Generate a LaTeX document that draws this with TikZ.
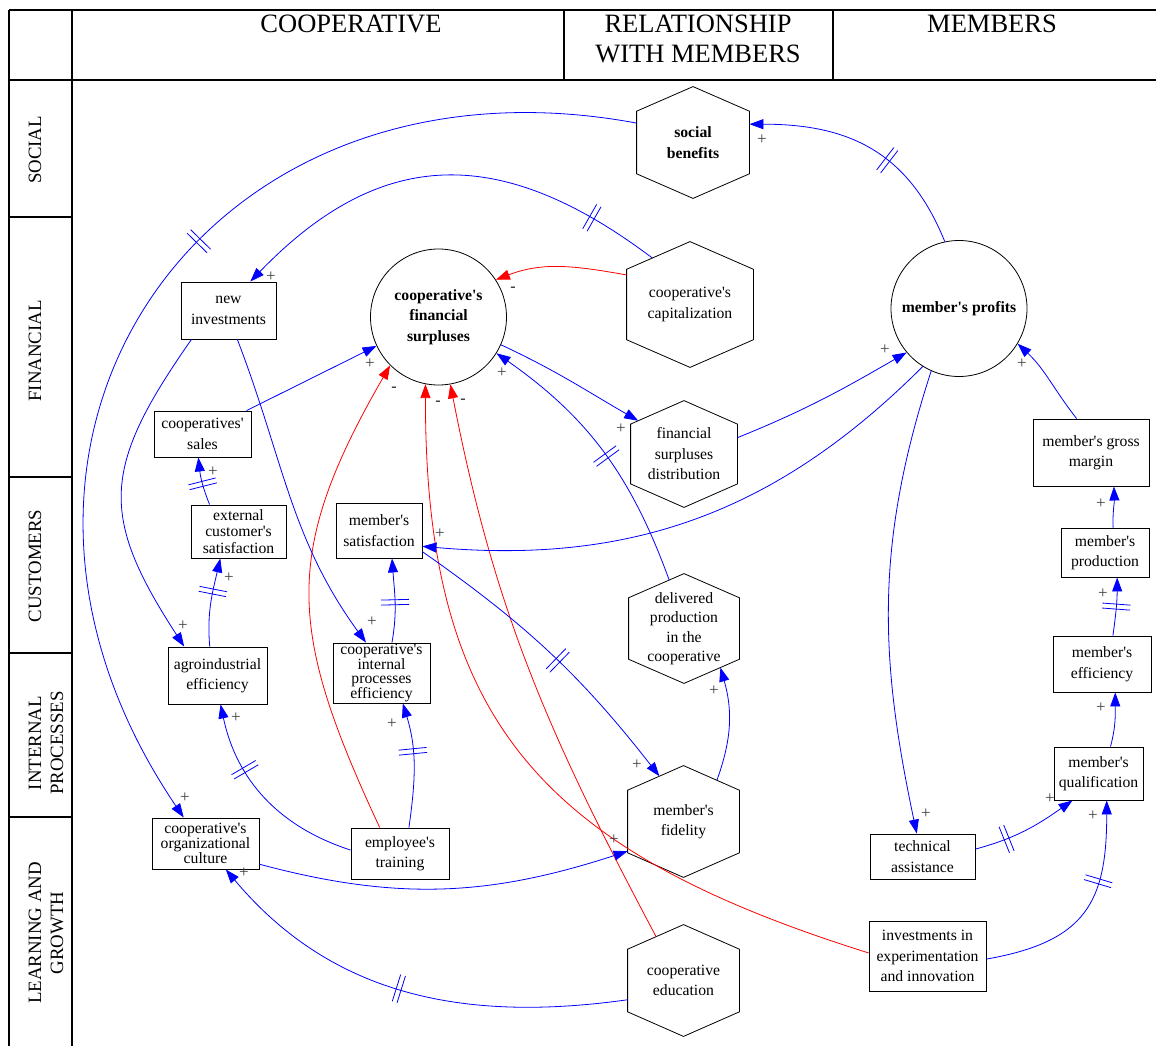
\documentclass[tikz,border=0pt]{standalone}
\usepackage{fontspec}
\setmainfont{Liberation Serif}[Ligatures=TeXOff]
\usetikzlibrary{arrows.meta,decorations.markings}

% A hexagon with pointed top and bottom whose width and height are set independently
\makeatletter
\pgfdeclareshape{hexv}{%
  \inheritsavedanchors[from=rectangle]%
  \inheritanchor[from=rectangle]{center}%
  \inheritanchor[from=rectangle]{north}%
  \inheritanchor[from=rectangle]{south}%
  \inheritanchor[from=rectangle]{east}%
  \inheritanchor[from=rectangle]{west}%
  \backgroundpath{%
    \southwest\edef\hv@l{\the\pgf@x}\edef\hv@b{\the\pgf@y}%
    \northeast\edef\hv@r{\the\pgf@x}\edef\hv@t{\the\pgf@y}%
    \pgfmathsetlengthmacro\hv@c{(\hv@l+\hv@r)/2}%
    \pgfmathsetlengthmacro\hv@u{\hv@t-0.22*(\hv@t-\hv@b)}%
    \pgfmathsetlengthmacro\hv@d{\hv@b+0.22*(\hv@t-\hv@b)}%
    \pgfpathmoveto{\pgfqpoint{\hv@c}{\hv@t}}%
    \pgfpathlineto{\pgfqpoint{\hv@r}{\hv@u}}%
    \pgfpathlineto{\pgfqpoint{\hv@r}{\hv@d}}%
    \pgfpathlineto{\pgfqpoint{\hv@c}{\hv@b}}%
    \pgfpathlineto{\pgfqpoint{\hv@l}{\hv@d}}%
    \pgfpathlineto{\pgfqpoint{\hv@l}{\hv@u}}%
    \pgfpathclose
  }%
  \anchorborder{%
    \edef\hv@dx{\the\pgf@x}\edef\hv@dy{\the\pgf@y}%
    \southwest\edef\hv@l{\the\pgf@x}\edef\hv@b{\the\pgf@y}%
    \northeast\edef\hv@r{\the\pgf@x}\edef\hv@t{\the\pgf@y}%
    \pgfmathsetmacro\hv@A{(\hv@r-\hv@l)/2}%
    \pgfmathsetmacro\hv@B{(\hv@t-\hv@b)/2}%
    \pgfmathsetmacro\hv@C{0.44*\hv@B}%
    \pgfmathsetmacro\hv@n{max(veclen(\hv@dx,\hv@dy),0.001)}%
    \pgfmathsetmacro\hv@X{max(abs(\hv@dx)/\hv@n,0.0001)}%
    \pgfmathsetmacro\hv@Y{abs(\hv@dy)/\hv@n}%
    \pgfmathsetmacro\hv@T{(\hv@Y*\hv@A < (\hv@B-\hv@C)*\hv@X) ? \hv@A/\hv@X : \hv@A*\hv@B/(\hv@A*\hv@Y+\hv@C*\hv@X)}%
    \pgfmathsetlengthmacro\hv@px{(\hv@l+\hv@r)/2+\hv@T*(\hv@dx/\hv@n)}%
    \pgfmathsetlengthmacro\hv@py{(\hv@b+\hv@t)/2+\hv@T*(\hv@dy/\hv@n)}%
    \pgf@x=\hv@px\relax
    \pgf@y=\hv@py\relax
  }%
}
\makeatother

\newcommand\diagfont{\fontsize{15.7}{20.5}\selectfont}

\tikzset{
  frame/.style={line width=1.6pt, black},
  head/.style={font=\fontsize{26.5}{30}\selectfont, align=center, anchor=base, inner sep=0pt},
  side/.style={font=\fontsize{18.8}{22}\selectfont, align=center, rotate=90, inner sep=0pt},
  box/.style={draw, line width=0.9pt, rectangle, inner sep=0pt, align=center, font=\diagfont},
  hexbox/.style={draw, line width=0.8pt, shape=hexv, inner sep=0pt, align=center, font=\diagfont},
  circ/.style={draw, circle, line width=0.8pt, minimum size=136pt, inner sep=0pt, align=center, font=\diagfont\bfseries},
  plink/.style={blue, line width=0.8pt, -{Triangle[length=14pt,width=10pt]}},
  nlink/.style={red, line width=0.8pt, -{Triangle[length=14pt,width=10pt]}},
  plus/.style={font=\fontsize{17}{17}\selectfont, text=black!75, inner sep=0pt},
  minus/.style={font=\fontsize{16}{16}\selectfont\bfseries, text=black!80, inner sep=0pt},
  delaymark/.style={postaction={decorate, decoration={markings,
      mark=at position #1 with {\draw[line width=0.8pt,-] (-2.5,-14) -- (-2.5,14) (2.5,-14) -- (2.5,14);}}}}
}

\begin{document}
\begin{tikzpicture}[x=1pt, y=1pt]
\useasboundingbox (0,0) rectangle (1156,-1046);

% table frame
\draw[frame] (9,-10) -- (1156,-10);
\draw[frame] (9,-80) -- (1156,-80);
\draw[frame] (9,-10) -- (9,-1046);
\draw[frame] (72,-10) -- (72,-1046);
\draw[frame] (564,-10) -- (564,-80);
\draw[frame] (833,-10) -- (833,-80);
\foreach \yy in {217,477,653,817} \draw[frame] (9,-\yy) -- (72,-\yy);

% column headings
\node[head] (hcoop) at (351,-33) {COOPERATIVE};
\node[head] (hrel) at (698,-63) {RELATIONSHIP\\WITH MEMBERS};
\node[head] (hmem) at (992,-33) {MEMBERS};

% perspective labels
\node[side] (lsoc) at (35,-150) {SOCIAL};
\node[side] (lfin) at (35,-351) {FINANCIAL};
\node[side] (lcus) at (35,-566) {CUSTOMERS};
\node[side] (lint) at (46,-743) {INTERNAL\\PROCESSES};
\node[side] (llea) at (46,-933) {LEARNING AND\\GROWTH};

% hexagonal variables
\node[hexbox, minimum width=112pt, minimum height=111pt, font=\diagfont\bfseries] (sb) at (693,-142.5) {social\\benefits};
\node[hexbox, minimum width=126pt, minimum height=125pt] (cap) at (690,-304.5) {cooperative's\\capitalization};
\node[hexbox, minimum width=106pt, minimum height=106pt] (fsd) at (684,-454) {financial\\surpluses\\distribution};
\node[hexbox, minimum width=110pt, minimum height=109pt, font=\fontsize{15.7}{19.5}\selectfont] (dp) at (684,-628.5) {delivered\\production\\in the\\cooperative};
\node[hexbox, minimum width=111pt, minimum height=111pt] (mf) at (683.5,-821.5) {member's\\fidelity};
\node[hexbox, minimum width=111pt, minimum height=111pt] (ce) at (683.5,-980.5) {cooperative\\education};

% circular variables
\node[circ] (cfs) at (438.5,-317) {cooperative's\\financial\\surpluses};
\node[circ] (mp) at (959,-308.5) {member's profits};

% rectangular variables
\node[box, minimum width=95pt, minimum height=57pt] (ni) at (228.5,-310.5) {new\\investments};
\node[box, minimum width=97pt, minimum height=46pt] (cs) at (202.5,-434) {cooperatives'\\sales};
\node[box, minimum width=95pt, minimum height=53pt, font=\fontsize{15.7}{16.7}\selectfont] (ecs) at (238.5,-531.5) {external\\customer's\\satisfaction};
\node[box, minimum width=86pt, minimum height=55pt] (ms) at (379,-530.5) {member's\\satisfaction};
\node[box, minimum width=99pt, minimum height=57pt] (ae) at (217.5,-675.5) {agroindustrial\\efficiency};
\node[box, minimum width=97pt, minimum height=60pt, font=\fontsize{15.7}{14.5}\selectfont] (cipe) at (381.5,-673) {cooperative's\\internal\\processes\\efficiency};
\node[box, minimum width=107pt, minimum height=51pt, font=\fontsize{15.7}{15}\selectfont] (cul) at (205.5,-843.5) {cooperative's\\organizational\\culture};
\node[box, minimum width=98pt, minimum height=51pt] (et) at (400,-853.5) {employee's\\training};
\node[box, minimum width=116pt, minimum height=67pt] (mgm) at (1091,-452.5) {member's gross\\margin};
\node[box, minimum width=88pt, minimum height=49pt] (mprod) at (1105,-552.5) {member's\\production};
\node[box, minimum width=98pt, minimum height=56pt] (meff) at (1102,-664) {member's\\efficiency};
\node[box, minimum width=89pt, minimum height=53pt] (mq) at (1098.5,-773.5) {member's\\qualification};
\node[box, minimum width=105pt, minimum height=45pt] (ta) at (922.5,-856.5) {technical\\assistance};
\node[box, minimum width=117pt, minimum height=70pt] (iei) at (927.5,-956) {investments in\\experimentation\\and innovation};

% negative links
\draw[nlink] (cap.155) to[out=170, in=21] (cfs.33);
\draw[nlink] (et.128) to[out=115, in=-120, looseness=1.2] (cfs.-135);
\draw[nlink] (iei.177) .. controls (540,-850) and (425,-720) .. (cfs.-101);
\draw[nlink] (ce.122) to[out=118, in=-79] (cfs.-80);

% positive links
\draw[plink, delaymark=0.41] (mp.102) to[out=112, in=0, looseness=1.1] (sb.18);
\draw[plink, delaymark=0.43] (sb.161) .. controls (200,-42) and (-69,-444) .. (cul.130);
\draw[plink, delaymark=0.16] (cap.129) to[out=143, in=46, looseness=1.2] (ni.53);
\draw[plink] (cfs.-24) to[out=-25, in=150] (fsd.144);
\draw[plink] (fsd.17) to[out=22, in=210] (mp.220);
\draw[plink, delaymark=0.48] (dp.107) to[out=110, in=-35] (cfs.-32);
\draw[plink] (mp.238) to[out=225, in=-5] (ms.-20);
\draw[plink] (mp.246) to[out=-108, in=102] (ta.104);
\draw[plink] (mgm.113) to[out=128, in=-43] (mp.-31);
\draw[plink] (mprod.72) to[out=92, in=-88] (mgm.-56);
\draw[plink, delaymark=0.5] (meff.69) to[out=82, in=-90] (mprod.-64);
\draw[plink] (mq.66) to[out=75, in=-90] (meff.-65);
\draw[plink, delaymark=0.3] (ta.8) to[out=15, in=215] (mq.226);
\draw[plink, delaymark=0.64] (iei.-3) to[out=10, in=-90, looseness=1.3] (mq.-73);
\draw[plink] (ni.218) to[out=235, in=123, looseness=1.3] (ae.139.5);
\draw[plink] (ni.-73) to[out=-69, in=126] (cipe.117);
\draw[plink] (cs.28) -- (cfs.205);
\draw[plink, delaymark=0.45] (ecs.137) to[out=112, in=-84] (cs.-100);
\draw[plink, delaymark=0.62] (ae.105) to[out=95, in=-103] (ecs.-124);
\draw[plink, delaymark=0.66] (et.176) to[out=162, in=-78] (ae.-84);
\draw[plink, delaymark=0.61] (et.71) to[out=82, in=-73] (cipe.-55);
\draw[plink, delaymark=0.48] (cipe.71) to[out=80, in=-86] (ms.-65);
\draw[plink, delaymark=0.53] (ms.-26) to[out=-35, in=128] (mf.118);
\draw[plink] (mf.51) to[out=70, in=-74] (dp.-47);
\draw[plink] (cul.-21.5) to[out=-15, in=198] (mf.208);
\draw[plink, delaymark=0.52] (ce.199) to[out=188, in=-50] (cul.-52);

% link polarities
\node[plus] (s1) at (762,-140) {+};
\node[plus] (s2) at (271,-277) {+};
\node[minus] (s3) at (513,-289) {-};
\node[plus] (s4) at (370,-364) {+};
\node[minus] (s5) at (394,-389) {-};
\node[minus] (s6) at (438,-403) {-};
\node[minus] (s7) at (463,-401) {-};
\node[plus] (s8) at (502,-373) {+};
\node[plus] (s9) at (213,-472) {+};
\node[plus] (s10) at (440,-534) {+};
\node[plus] (s11) at (885,-350) {+};
\node[plus] (s12) at (1022,-364) {+};
\node[plus] (s13) at (621,-429) {+};
\node[plus] (s14) at (714,-691) {+};
\node[plus] (s15) at (1101,-504) {+};
\node[plus] (s16) at (1103,-594) {+};
\node[plus] (s17) at (1101,-708) {+};
\node[plus] (s18) at (1050,-799) {+};
\node[plus] (s19) at (1093,-816) {+};
\node[plus] (s20) at (926,-814) {+};
\node[plus] (s21) at (229,-578) {+};
\node[plus] (s22) at (183,-626) {+};
\node[plus] (s23) at (372,-622) {+};
\node[plus] (s24) at (236,-718) {+};
\node[plus] (s25) at (392,-724) {+};
\node[plus] (s26) at (185,-798) {+};
\node[plus] (s27) at (244,-873) {+};
\node[plus] (s28) at (637,-765) {+};
\node[plus] (s29) at (614,-840) {+};
\end{tikzpicture}
\end{document}
